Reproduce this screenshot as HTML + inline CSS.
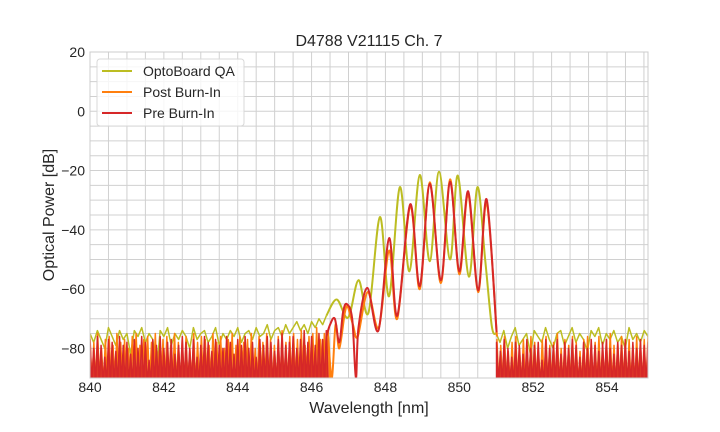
<!DOCTYPE html>
<html><head><meta charset="utf-8"><style>
body{margin:0;background:#fff;}
svg{display:block;font-family:"Liberation Sans",sans-serif;}
</style></head><body>
<svg id="chart" width="720" height="432">
<defs><clipPath id="pc"><rect x="90" y="52" width="558" height="326"/></clipPath></defs>
<rect x="90" y="52" width="558" height="326" fill="#fff"/>
<g id="grid"></g>
<g id="series" clip-path="url(#pc)"></g>
<rect x="90" y="52" width="558" height="326" fill="none" stroke="#cccccc" stroke-width="1"/>
<g id="ticks" font-size="14" fill="#262626"></g>
<text x="369" y="46" text-anchor="middle" font-size="16" fill="#262626">D4788 V21115 Ch. 7</text>
<text x="369" y="413" text-anchor="middle" font-size="16" fill="#262626">Wavelength [nm]</text>
<text transform="translate(54,215) rotate(-90)" text-anchor="middle" font-size="16" fill="#262626">Optical Power [dB]</text>
<g>
<rect x="97" y="59" width="147" height="67" rx="3" fill="#fff" fill-opacity="0.8" stroke="#d8d8d8"/>
<g><line x1="102" y1="71" x2="132" y2="71" stroke="#bcbd22" stroke-width="2"/><text x="143" y="76" font-size="14" fill="#262626">OptoBoard QA</text></g>
<g><line x1="102" y1="92" x2="132" y2="92" stroke="#ff7f0e" stroke-width="2"/><text x="143" y="97" font-size="14" fill="#262626">Post Burn-In</text></g>
<g><line x1="102" y1="113" x2="132" y2="113" stroke="#d62728" stroke-width="2"/><text x="143" y="118" font-size="14" fill="#262626">Pre Burn-In</text></g>
</g>
</svg>
<script>
const xTicks=[840,842,844,846,848,850,852,854];
const yTicks=[20,0,-20,-40,-60,-80];
const yTickLabels=["20","0","\u221220","\u221240","\u221260","\u221280"];
const yellowNoiseL=[-75,-78,-74,-77,-80,-73,-76,-79,-74,-77,-75,-82,-74,-76,-73,-78,-75,-77,-88,-74,-76,-73,-79,-75,-77,-74,-76,-80,-73,-77,-75,-74,-78,-76,-73,-79,-75,-77,-74,-76,-73,-78,-75,-74,-77,-73,-76,-75,-72,-77,-74,-73,-76,-72,-75,-73,-71,-74,-72,-75,-71,-73,-70,-72,-69];
const orangeNoiseL=[-76,-78,-75,-80,-77,-76,-79,-75,-78,-77,-80,-76,-75,-79,-77,-76,-78,-75,-81,-77,-76,-79,-75,-78,-77,-76,-80,-75,-78,-76,-77,-79,-75,-78,-76,-80,-77,-75,-79,-76,-78,-77,-75,-80,-76,-78,-75,-77,-79,-76,-74,-78,-76,-75,-77,-74,-79,-76,-75,-73,-77,-75,-74];
const redNoiseL=[-77,-80,-76,-79,-83,-77,-78,-81,-76,-79,-78,-82,-77,-80,-76,-78,-84,-77,-79,-76,-80,-78,-77,-82,-79,-76,-78,-80,-77,-83,-79,-76,-78,-81,-77,-79,-80,-76,-78,-82,-77,-79,-76,-80,-78,-83,-77,-79,-76,-78,-81,-77,-75,-79,-78,-76,-80,-77,-74,-78,-76,-79,-75,-77,-74];
const yellowNoiseR=[-75,-78,-74,-80,-76,-73,-79,-77,-75,-82,-74,-76,-78,-73,-77,-80,-75,-74,-79,-76,-73,-78,-75,-77,-81,-74,-76,-73,-79,-75,-77,-74,-78,-76,-80,-73,-77,-75,-78,-74,-76];
const orangeNoiseR=[-77,-79,-76,-81,-78,-76,-80,-77,-79,-76,-78,-82,-77,-76,-79,-78,-75,-80,-77,-79,-76,-78,-81,-77,-76,-79,-78,-76,-80,-77,-75,-79,-78,-76,-81,-77,-79,-76,-78,-77,-76];
const redNoiseR=[-78,-81,-77,-80,-83,-78,-79,-82,-77,-80,-79,-78,-84,-77,-80,-79,-77,-82,-78,-80,-77,-79,-83,-78,-80,-77,-79,-81,-78,-77,-80,-82,-78,-79,-77,-81,-78,-80,-77,-79,-78];
const yellowPeaks=[[846.4,-69],[846.68,-63.5],[846.99,-69.6],[847.27,-57],[847.54,-68],[847.85,-35.7],[848.1,-62.4],[848.39,-25.6],[848.65,-54],[848.93,-21.5],[849.2,-50.6],[849.45,-20.4],[849.75,-50],[849.96,-21.7],[850.26,-55.8],[850.49,-25.6],[850.7,-50],[850.88,-72.5],[851.0,-75]];
const orangePeaks=[[846.45,-76],[846.55,-90],[846.65,-72],[846.75,-80],[846.9,-68],[846.98,-66],[847.12,-72],[847.25,-76],[847.52,-61],[847.82,-73],[848.1,-47],[848.32,-70],[848.67,-32],[848.93,-60],[849.2,-24],[849.5,-58],[849.75,-23],[850.0,-55],[850.24,-28],[850.51,-61],[850.74,-31],[851.02,-76]];
const redPeaks=[[846.4,-76],[846.5,-72],[846.63,-70],[846.75,-78],[846.85,-68],[846.95,-65],[847.1,-70],[847.2,-90],[847.27,-73],[847.51,-59.6],[847.81,-74],[848.1,-42.8],[848.32,-69],[848.67,-31.4],[848.93,-59],[849.2,-24.5],[849.5,-57],[849.75,-23.8],[850.0,-54],[850.24,-27],[850.51,-60.4],[850.74,-29.7],[851.01,-74.6]];

const X0=90,X1=648,Y0=52,Y1=378,XMIN=840,XMAX=855.11,YMIN=-90,YMAX=20;
const sx=v=>X0+(v-XMIN)/(XMAX-XMIN)*(X1-X0);
const sy=v=>Y1-(v-YMIN)/(YMAX-YMIN)*(Y1-Y0);
const NS="http://www.w3.org/2000/svg";
function mk(t,a,p){const e=document.createElementNS(NS,t);for(const k in a)e.setAttribute(k,a[k]);p.appendChild(e);return e;}
const grid=document.getElementById('grid'),ticks=document.getElementById('ticks'),ser=document.getElementById('series');
for(let v=840;v<=855;v+=0.5){const l=mk('line',{x1:sx(v),x2:sx(v),y1:Y0,y2:Y1,stroke:'#d0d0d0','stroke-width':1},grid);

}
for(let v=-90;v<=20;v+=5){const l=mk('line',{x1:X0,x2:X1,y1:sy(v),y2:sy(v),stroke:'#d0d0d0','stroke-width':1},grid);

}
xTicks.forEach(v=>{const t=mk('text',{x:sx(v),y:Y1+14,'text-anchor':'middle'},ticks);t.textContent=v;

});
yTicks.forEach((v,i)=>{const t=mk('text',{x:X0-5,y:sy(v)+5,'text-anchor':'end'},ticks);t.textContent=yTickLabels[i];

});
function noisePts(vals,a,b,spike){const pts=[];const st=(b-a)/(vals.length-1);
vals.forEach((v,i)=>{const x=a+i*st;pts.push([sx(x),sy(v)]);if(spike)pts.push([sx(x+st*0.5),sy(YMIN-2)]);});return pts;}
function smooth(data){const p=data.map(d=>[sx(d[0]),sy(d[1])]);let s='M'+p[0][0]+','+p[0][1];
for(let i=0;i<p.length-1;i++){const p0=p[i-1]||p[i],p1=p[i],p2=p[i+1],p3=p[i+2]||p2;
const c1=[p1[0]+(p2[0]-p0[0])/6,p1[1]+(p2[1]-p0[1])/6],c2=[p2[0]-(p3[0]-p1[0])/6,p2[1]-(p3[1]-p1[1])/6];
s+=`C${c1[0]},${c1[1]} ${c2[0]},${c2[1]} ${p2[0]},${p2[1]}`;}return s;}
const lineD=pts=>'M'+pts.map(p=>p[0]+','+p[1]).join('L');
function noisePath(pts,spike){let d=lineD(pts);if(spike){d+=`L${pts[pts.length-1][0]},${Y1+5}L${pts[0][0]},${Y1+5}Z`;}return d;}
function drawSeries(name,color,nl,peaks,nr,spike){
const g=mk('g',{},ser);


const fillC=spike?color:'none';
const a=mk('path',{d:noisePath(noisePts(nl,840,peaks[0][0],spike),spike),fill:fillC,'fill-opacity':0.85,stroke:color,'stroke-width':1.5,'stroke-linejoin':'round'},g);


const b=mk('path',{d:smooth(peaks),fill:'none',stroke:color,'stroke-width':2},g);


const c=mk('path',{d:noisePath(noisePts(nr,peaks[peaks.length-1][0],855.11,spike),spike),fill:fillC,'fill-opacity':0.85,stroke:color,'stroke-width':1.5,'stroke-linejoin':'round'},g);

}
drawSeries('optoboard-qa','#bcbd22',yellowNoiseL,yellowPeaks,yellowNoiseR,false);
drawSeries('post-burn-in','#ff7f0e',orangeNoiseL,orangePeaks,orangeNoiseR,true);
drawSeries('pre-burn-in','#d62728',redNoiseL,redPeaks,redNoiseR,true);
</script>
</body></html>
